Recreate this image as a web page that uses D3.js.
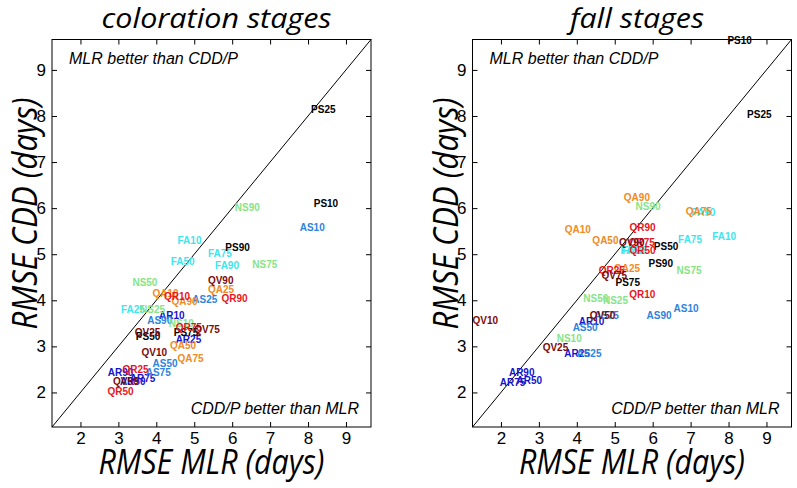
<!DOCTYPE html>
<html>
<head>
<meta charset="utf-8">
<script src="https://cdn.jsdelivr.net/npm/d3@7"></script>
<style>
  html, body { margin: 0; padding: 0; background: #fff; }
  svg { display: block; }
</style>
</head>
<body>
<svg id="chart" width="797" height="488"></svg>
<script>
// ---------- data ----------
const seriesCodes  = ["AR", "AS", "FA", "NS", "PS", "QA", "QR", "QV"];
const seriesColors = ["#1414cc", "#2c84dc", "#3ce6ee", "#86e486", "#000000", "#f08a24", "#e8161c", "#7c0a0a"];
const tickValues = [2, 3, 4, 5, 6, 7, 8, 9];
const panelTitles = ["coloration stages", "fall stages"];

const colorationLabels = ["AR10","AR25","AR50","AR75","AR90","AS10","AS25","AS50","AS75","AS90",
  "FA10","FA25","FA50","FA75","FA90","NS10","NS25","NS50","NS75","NS90",
  "PS10","PS25","PS50","PS75","PS90","QA10","QA25","QA50","QA75","QA90",
  "QR10","QR25","QR50","QR75","QR90","QV10","QV25","QV50","QV75","QV90"];
const colorationMLR = [4.07,4.51,3.04,3.30,2.72,7.78,4.95,3.90,3.72,3.76,
  4.56,3.07,4.38,5.36,5.55,4.33,3.57,3.37,6.53,6.07,
  8.15,8.08,3.46,4.46,5.82,3.90,5.36,4.36,4.56,4.40,
  4.20,3.11,2.71,4.51,5.72,3.61,3.43,2.86,5.00,5.36];
const colorationCDD = [3.68,3.14,2.24,2.30,2.43,5.59,4.01,2.63,2.43,3.56,
  5.30,3.79,4.84,5.01,4.75,3.49,3.80,4.38,4.78,6.01,
  6.10,8.15,3.22,3.31,5.14,4.14,4.24,3.01,2.73,3.98,
  4.09,2.50,2.01,3.40,4.03,2.87,3.31,2.23,3.36,4.44];

const fallLabels = colorationLabels.slice();
const fallMLR = [4.05,3.67,2.41,1.97,2.21,6.55,3.99,3.89,4.45,5.84,
  7.57,5.20,5.15,6.67,7.02,3.47,4.69,4.17,6.63,5.55,
  7.97,8.49,6.03,5.02,5.89,3.68,4.98,4.41,6.87,5.24,
  5.38,4.58,5.39,5.37,5.39,1.25,3.10,4.34,4.65,5.11];
const fallCDD = [3.55,2.84,2.25,2.21,2.43,3.82,2.85,3.40,3.66,3.67,
  5.39,5.07,5.09,5.33,5.91,3.18,3.99,4.03,4.64,6.04,
  9.63,8.03,5.16,4.39,4.79,5.53,4.69,5.29,5.92,6.24,
  4.12,4.64,5.09,5.25,5.58,3.56,2.98,3.67,4.53,5.25];

// ---------- layout ----------
const svg = d3.select("#chart");
const domain = [1.25, 9.66];
const plotW = 319, plotTop = 39.5, plotBottom = 427;
const panelLeft = [52, 472.5];
const colorOf = d3.scaleOrdinal().domain(seriesCodes).range(seriesColors);

const panels = [
  { title: panelTitles[0], labels: colorationLabels, mlr: colorationMLR, cdd: colorationCDD },
  { title: panelTitles[1], labels: fallLabels, mlr: fallMLR, cdd: fallCDD }
];

panels.forEach((p, i) => {
  const x0 = panelLeft[i];
  const x = d3.scaleLinear().domain(domain).range([x0, x0 + plotW]);
  const y = d3.scaleLinear().domain(domain).range([plotBottom, plotTop]);
  const g = svg.append("g");

  // box
  g.append("rect").attr("x", x0).attr("y", plotTop)
    .attr("width", plotW).attr("height", plotBottom - plotTop)
    .attr("fill", "none").attr("stroke", "#000").attr("stroke-width", 1);

  const tickFont = (sel) => sel.selectAll("text")
    .attr("font-family", "'Liberation Sans', Arial, sans-serif")
    .attr("font-size", 17).attr("fill", "#000");

  const axB = g.append("g").attr("transform", `translate(0,${plotBottom})`)
    .call(d3.axisBottom(x).tickValues(tickValues).tickSizeInner(-5).tickSizeOuter(0).tickPadding(5));
  tickFont(axB);
  const axL = g.append("g").attr("transform", `translate(${x0},0)`)
    .call(d3.axisLeft(y).tickValues(tickValues).tickSizeInner(-5).tickSizeOuter(0).tickPadding(6));
  tickFont(axL);
  g.append("g").attr("transform", `translate(0,${plotTop})`)
    .call(d3.axisTop(x).tickValues(tickValues).tickSizeInner(-5).tickSizeOuter(0).tickFormat(""));
  g.append("g").attr("transform", `translate(${x0 + plotW},0)`)
    .call(d3.axisRight(y).tickValues(tickValues).tickSizeInner(-5).tickSizeOuter(0).tickFormat(""));
  g.selectAll(".domain").remove();
  g.selectAll(".tick line").attr("stroke", "#000");

  // diagonal 1:1 line
  g.append("line")
    .attr("x1", x(domain[0])).attr("y1", y(domain[0]))
    .attr("x2", x(domain[1])).attr("y2", y(domain[1]))
    .attr("stroke", "#000").attr("stroke-width", 1);

  // annotations
  g.append("text").attr("x", x0 + 17).attr("y", 63.5)
    .attr("font-family", "'Liberation Sans', Arial, sans-serif").attr("font-style", "italic")
    .attr("font-size", 16).text("MLR better than CDD/P");
  g.append("text").attr("x", x0 + plotW - 12).attr("y", 414)
    .attr("text-anchor", "end")
    .attr("font-family", "'Liberation Sans', Arial, sans-serif").attr("font-style", "italic")
    .attr("font-size", 16).text("CDD/P better than MLR");

  // point labels
  const data = p.labels.map((lab, k) => ({ lab, mlr: p.mlr[k], cdd: p.cdd[k] }));
  g.append("g").selectAll("text").data(data).join("text")
    .attr("x", d => x(d.mlr)).attr("y", d => y(d.cdd))
    .attr("dy", "0.35em")
    .attr("font-family", "'Liberation Sans', Arial, sans-serif")
    .attr("font-weight", "bold").attr("font-size", 10)
    .attr("fill", d => colorOf(d.lab.slice(0, 2)))
    .text(d => d.lab);

  // title
  const cx = x0 + plotW / 2 + 5;
  g.append("text").attr("x", cx).attr("y", 28).attr("text-anchor", "middle")
    .attr("font-family", "'Open Sans', sans-serif").attr("font-style", "italic")
    .attr("font-size", 27)
    .attr("textLength", i === 0 ? 230 : 134).attr("lengthAdjust", "spacingAndGlyphs")
    .text(p.title);

  // x axis label
  g.append("text").attr("x", x0 + plotW / 2).attr("y", 474).attr("text-anchor", "middle")
    .attr("font-family", "'Open Sans', sans-serif").attr("font-style", "italic")
    .attr("font-size", 34)
    .attr("textLength", 226).attr("lengthAdjust", "spacingAndGlyphs")
    .text("RMSE MLR (days)");

  // y axis label
  g.append("text").attr("transform", `translate(${x0 - 15},213.5) rotate(-90)`)
    .attr("text-anchor", "middle")
    .attr("font-family", "'Open Sans', sans-serif").attr("font-style", "italic")
    .attr("font-size", 34)
    .attr("textLength", 232).attr("lengthAdjust", "spacingAndGlyphs")
    .text("RMSE CDD (days)");
});
</script>
</body>
</html>
